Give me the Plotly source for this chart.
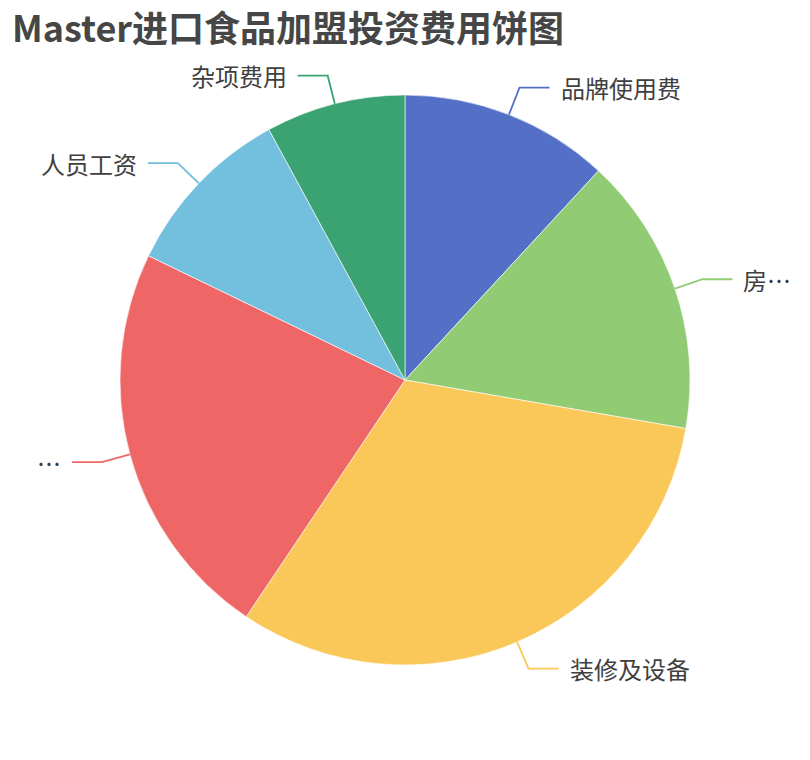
import math
import plotly.graph_objects as go

# 费用项目 (labels as shown in the chart, two of them are cut off there)
items = ["品牌使用费", "房…", "装修及设备", "…", "人员工资", "杂项费用"]
costs = [6, 8, 16, 11.5, 5, 4]
colors = ["#5470c6", "#91cc75", "#fac858", "#ee6666", "#73c0de", "#3ba272"]

OFF = 8                        # page body margin of the html
W, H = 810 - OFF, 760 - OFF
cx, cy, r = 405, 380, 285      # pie centre / radius in window px
len1, len2, gap = 29, 30, 9    # label line segments

def px(x, y):
    return (x - OFF) / W, 1 - (y - OFF) / H

fig = go.Figure(go.Pie(
    labels=items,
    values=costs,
    sort=False,
    direction="clockwise",
    rotation=0,
    marker=dict(colors=colors, line=dict(color="white", width=0.6)),
    textinfo="none",
    hoverinfo="label+value+percent",
    domain=dict(x=[px(cx - r, 0)[0], px(cx + r, 0)[0]],
                y=[px(0, cy + r)[1], px(0, cy - r)[1]]),
    showlegend=False,
))

#-------------------------------------------------------------------------------
# leader lines + outside labels, placed from the slice mid angles
shapes = []
annotations = []
total = sum(costs)
acc = 0
for name, v, col in zip(items, costs, colors):
    mid = (acc + v / 2) / total * 2 * math.pi
    acc += v
    sx, sy = math.sin(mid), -math.cos(mid)
    x0, y0 = cx + r * sx, cy + r * sy
    x1, y1 = cx + (r + len1) * sx, cy + (r + len1) * sy
    side = 1 if sx >= 0 else -1
    x2 = x1 + side * len2
    pts = [px(x0, y0), px(x1, y1), px(x2, y1)]
    path = "M {} {} L {} {} L {} {}".format(*[c for p in pts for c in p])
    shapes.append(dict(type="path", path=path, xref="paper", yref="paper",
                       line=dict(color=col, width=1.8)))
    tx, ty = px(x2 + side * gap, y1)
    annotations.append(dict(x=tx, y=ty, xref="paper", yref="paper", text=name,
                            showarrow=False, xanchor="left" if side > 0 else "right",
                            yanchor="middle",
                            font=dict(size=24, color="#404040", family="Noto Sans CJK SC")))

tx, ty = px(12, 29)
fig.update_layout(
    width=W, height=H,
    margin=dict(l=0, r=0, t=0, b=0),
    paper_bgcolor="white",
    title=dict(text="<b>Master进口食品加盟投资费用饼图</b>",
               x=tx, xanchor="left", y=ty, yanchor="middle",
               xref="container", yref="container",
               font=dict(size=36, color="#464646", family="Noto Sans CJK SC")),
    shapes=shapes,
    annotations=annotations,
)

fig.write_html("out.html")
